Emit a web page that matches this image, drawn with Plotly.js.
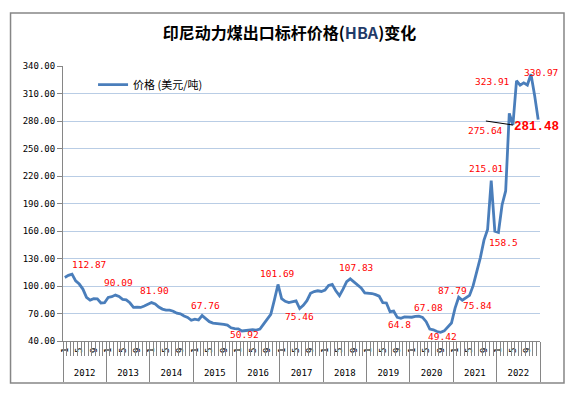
<!DOCTYPE html>
<html>
<head>
<meta charset="utf-8">
<script src="https://cdn.plot.ly/plotly-3.0.1.min.js"></script>
<style>html,body{margin:0;padding:0;background:#fff;}#chart{width:579px;height:398px;}</style>
</head>
<body>
<div id="chart"></div>
<script>
// ---- data (HBA, USD/t, monthly) ----
const years = ['2012','2013','2014','2015','2016','2017','2018','2019','2020','2021','2022'];
const p2012 = [109.29,111.58,112.87,105.61,102.12,96.65,87.56,84.65,86.21,86.04,81.44,81.75];
const p2013 = [87.55,88.35,90.09,88.56,85.33,84.87,81.69,76.70,76.89,76.61,78.13,80.31];
const p2014 = [81.90,80.44,77.01,74.81,73.60,73.64,72.45,70.29,69.69,67.26,65.70,62.65];
const p2015 = [63.84,62.92,67.76,64.48,61.08,59.59,59.16,59.14,58.21,57.39,54.43,53.51];
const p2016 = [53.20,50.92,51.62,52.32,52.24,51.81,53.00,58.37,63.93,69.07,84.89,101.69];
const p2017 = [86.23,83.32,81.90,82.51,83.81,75.46,78.95,83.97,92.03,93.99,94.80,94.04];
const p2018 = [95.54,100.69,101.86,94.75,89.53,96.61,104.65,107.83,104.81,100.89,97.90,92.51];
const p2019 = [92.41,91.80,90.57,88.85,81.86,81.48,71.92,72.67,65.79,64.80,66.27,66.30];
const p2020 = [65.93,66.89,67.08,65.77,61.11,52.98,52.16,50.34,49.42,51.00,55.71,59.65];
const p2021 = [75.84,87.79,84.47,86.68,89.74,100.33,115.35,130.99,150.03,161.63,215.01,159.79];
const p2022 = [158.50,188.38,203.69,288.40,275.64,323.91,319.00,321.59,319.22,330.97,308.20,281.48];
const monthLabels = [1,5,9];              // month tick labels shown per year
const seriesName = '价格 (美元/吨)';
const chartTitle = '印尼动力煤出口标杆价格(<span style="color:#1F3A68">HBA</span>)变化';

// labelled points: [year, month, text]
const labelYear  = ['2012','2013','2014','2015','2016','2016','2017','2018','2019','2020','2020','2021','2021','2021','2022','2022','2022','2022','2022'];
const labelMonth = [3,3,1,3,2,12,6,8,10,3,9,2,1,11,1,5,6,10,12];
const labelText  = ['112.87','90.09','81.90','67.76','50.92','101.69','75.46','107.83','64.8','67.08','49.42','87.79','75.84','215.01','158.5','275.64','323.91','330.97','281.48'];

// ---- styling (label offsets in px, not data) ----
const labelDX = [17,3,3,3,3,-1,0,6,-1,10,1.5,-6,22,-5,5.5,-27,-24,10,-2];
const labelDY = [-10,-13,-12.5,-10,4,-10.5,8.5,-11,6,-9,4,-7,-2.5,-12,10,5,1,-1.5,7];

const pricesByYear = [p2012,p2013,p2014,p2015,p2016,p2017,p2018,p2019,p2020,p2021,p2022];
const prices = [].concat(...pricesByYear);
const N = prices.length;
const idx = prices.map((_, i) => i);
const monthIndex = (y, m) => years.indexOf(y) * 12 + (m - 1);

const boundaries = Array.from({length: N + 1}, (_, i) => i - 0.5);
const yearBounds = years.map((_, k) => k * 12 - 0.5).concat([years.length * 12 - 0.5]);
const yearCenters = years.map((_, k) => k * 12 + 5.5);
const mTickVals = [], mTickText = [];
years.forEach((y, k) => monthLabels.forEach(m => { mTickVals.push(k * 12 + m - 1); mTickText.push(String(m)); }));

const range = [-0.5, N - 0.5];
const gray = '#868686';
const mono = 'DejaVu Sans Mono';
const cjk = 'Noto Sans CJK SC';

const traces = [
  {x: idx, y: prices, type: 'scatter', mode: 'lines', name: seriesName,
   line: {color: '#4A7EBB', width: 2.8}, hoverinfo: 'x+y'}
];
['x2','x3','x4'].forEach(ax => traces.push({x: idx, y: prices, xaxis: ax, type: 'scatter', mode: 'lines',
  line: {width: 0}, opacity: 0, showlegend: false, hoverinfo: 'skip'}));

const annotations = labelText.map((t, k) => {
  const i = monthIndex(labelYear[k], labelMonth[k]);
  const last = (k === labelText.length - 1);
  return {x: i, y: prices[i], xref: 'x', yref: 'y', showarrow: false,
    text: last ? '<b>' + t + '</b>' : t,
    xshift: labelDX[k], yshift: -labelDY[k],
    font: {family: last ? 'Liberation Mono' : mono, size: last ? 12.5 : 9.5, color: '#FF0000'}};
});

// leader line for the 275.64 label
const leadI = monthIndex('2022', 5);
const shapes = [
  {type: 'rect', xref: 'paper', yref: 'paper', x0: -0.110, x1: 1.0503, y0: -0.1527, y1: 1.1927,
   line: {color: gray, width: 1.5}, fillcolor: 'rgba(0,0,0,0)', layer: 'below'},
  {type: 'line', xref: 'x', yref: 'y', xsizemode: 'pixel', ysizemode: 'pixel',
   xanchor: leadI, yanchor: prices[leadI], x0: -27, y0: 4, x1: 0, y1: 0,
   line: {color: '#000000', width: 1}}
];

const overlayBase = {overlaying: 'x', anchor: 'y', side: 'bottom', range: range, showgrid: false,
  zeroline: false, showline: false, fixedrange: true};

const layout = {
  width: 579, height: 398,
  paper_bgcolor: '#ffffff', plot_bgcolor: '#ffffff',
  margin: {l: 63, r: 39, t: 66, b: 57, pad: 0},
  title: {text: chartTitle, x: 0.5, xanchor: 'center', y: 0.917, yanchor: 'middle',
          font: {family: cjk, size: 16, color: '#000000', weight: 'bold'}},
  showlegend: true,
  legend: {x: 0.063, y: 0.985, xanchor: 'left', yanchor: 'top', bgcolor: 'rgba(0,0,0,0)',
           itemwidth: 30, font: {family: cjk, size: 11, color: '#000000'}},
  xaxis: {range: range, showline: true, linecolor: gray, linewidth: 1, ticks: '',
          tickmode: 'array', tickvals: mTickVals, ticktext: mTickText, tickangle: -90,
          ticklabelstandoff: 2, tickfont: {family: mono, size: 9, color: '#000'},
          showgrid: false, zeroline: false, fixedrange: true},
  xaxis2: Object.assign({}, overlayBase, {tickmode: 'array', tickvals: boundaries, ticks: 'outside',
          ticklen: 14, tickcolor: gray, tickwidth: 1, showticklabels: false}),
  xaxis3: Object.assign({}, overlayBase, {tickmode: 'array', tickvals: yearBounds, ticks: 'outside',
          ticklen: 40, tickcolor: gray, tickwidth: 1, showticklabels: false}),
  xaxis4: Object.assign({}, overlayBase, {tickmode: 'array', tickvals: yearCenters, ticktext: years,
          ticks: '', ticklabelstandoff: 25, tickfont: {family: mono, size: 9, color: '#000'}}),
  yaxis: {range: [40, 340], tickmode: 'linear', tick0: 40, dtick: 30, tickformat: '.2f',
          ticks: 'outside', ticklen: 5, tickcolor: gray, showline: true, linecolor: gray, linewidth: 1,
          showgrid: true, gridcolor: '#B9CDE5', gridwidth: 1, zeroline: false, fixedrange: true,
          tickfont: {family: mono, size: 9, color: '#000'}},
  annotations: annotations,
  shapes: shapes
};

Plotly.newPlot('chart', traces, layout, {displayModeBar: false, staticPlot: true});
</script>
</body>
</html>
